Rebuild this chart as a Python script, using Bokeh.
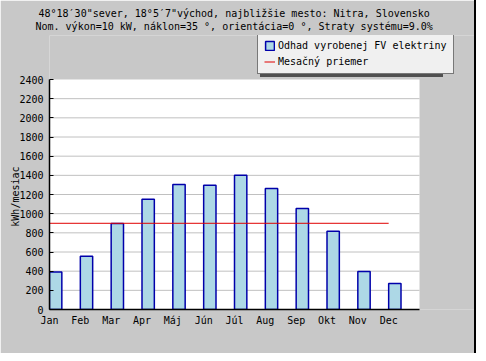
from bokeh.plotting import figure
from bokeh.models import (Legend, LegendItem, FixedTicker, Range1d, Title,
                          ColumnDataSource, BoxAnnotation)
from bokeh.embed import file_html
from bokeh.resources import INLINE

# ---- data ----
months = ["Jan", "Feb", "Mar", "Apr", "Máj", "Jún", "Júl", "Aug", "Sep", "Okt", "Nov", "Dec"]
energy = [392, 556, 897, 1150, 1304, 1296, 1401, 1262, 1053, 817, 396, 271]
y_ticks = [0, 200, 400, 600, 800, 1000, 1200, 1400, 1600, 1800, 2000, 2200, 2400]
title_line1 = "48°18′30\"sever, 18°5′7\"východ, najbližšie mesto: Nitra, Slovensko"
title_line2 = "Nom. výkon=10 kW, náklon=35 °, orientácia=0 °, Straty systému=9.0%"
y_label = "kWh/mesiac"
series_label = "Odhad vyrobenej FV elektriny"
mean_label = "Mesačný priemer"

FONT = "DejaVu Sans Mono"
BG = "#C8C8C8"

n = len(months)
idx = list(range(n))
y_max = y_ticks[-1]
mean_val = sum(energy) / n

# layout in pixels: plot area 370 x 230, frame extended up/right to hold the legend
PLOT_W, PLOT_H = 370, 230
FRAME_W, FRAME_H = 427, 274
x_hi = n * FRAME_W / PLOT_W
y_hi = y_max * FRAME_H / PLOT_H

src = ColumnDataSource(dict(
    left=idx,
    right=[i + 0.4 for i in idx],
    top=energy,
    bottom=[0] * n,
))

p = figure(
    width=476, height=353,
    min_border_left=49, min_border_right=0, min_border_top=35, min_border_bottom=44,
    x_range=Range1d(0, x_hi), y_range=Range1d(0, y_hi),
    output_backend="svg", toolbar_location=None,
    background_fill_color=BG, border_fill_color=BG,
)
p.outline_line_color = None
p.styles = {"border-right": "2px solid black"}

# white plot area
p.add_layout(BoxAnnotation(left=0, right=n, bottom=0, top=y_max, fill_color="white",
                           fill_alpha=1, line_color=None, level="underlay"))

# horizontal grid lines
grid_y = y_ticks[1:-1]
p.segment(x0=[0] * len(grid_y), x1=[n] * len(grid_y), y0=grid_y, y1=grid_y,
          line_color="#C0C0C0", line_width=1)

bars = p.quad(left="left", right="right", top="top", bottom="bottom", source=src,
              fill_color="#ADD8E6", line_color="#0000AA", line_width=1.5)
mline = p.line(x=[idx[0], idx[-1]], y=[mean_val, mean_val], line_color="#E00000", line_width=1)

# axes
p.xgrid.visible = False
p.ygrid.visible = False
p.xaxis.ticker = FixedTicker(ticks=idx)
p.xaxis.major_label_overrides = {i: m for i, m in zip(idx, months)}
p.xaxis.bounds = (0, n)
p.yaxis.ticker = FixedTicker(ticks=y_ticks)
p.yaxis.bounds = (0, y_max)
for ax in (p.xaxis[0], p.yaxis[0]):
    ax.axis_line_color = "black"
    ax.axis_line_width = 1.5
    ax.major_tick_in = 4
    ax.major_tick_out = 0
    ax.minor_tick_line_color = None
    ax.major_tick_line_color = "black"
    ax.major_label_text_font = FONT
    ax.major_label_text_font_size = "10px"
    ax.major_label_text_color = "black"
p.xaxis.major_tick_line_color = None
p.xaxis.major_label_standoff = 5
p.yaxis.major_label_standoff = 6
p.yaxis.axis_label = y_label + "\u00a0" * 8
p.yaxis.axis_label_text_font = FONT
p.yaxis.axis_label_text_font_size = "10px"
p.yaxis.axis_label_text_font_style = "normal"
p.yaxis.axis_label_text_color = "black"
p.yaxis.axis_label_standoff = -5

# legend shadow (invisible dummy renderers, blank labels)
empty = ColumnDataSource(dict(left=[], right=[], top=[], bottom=[]))
d1 = p.quad(left="left", right="right", top="top", bottom="bottom", source=empty,
            fill_alpha=0, line_alpha=0)
d2 = p.line(x=[], y=[], line_alpha=0)

common = dict(padding=6, spacing=5, margin=0, glyph_width=11, glyph_height=11,
              label_height=11, label_standoff=3,
              label_text_font=FONT, label_text_font_size="10px")

shadow = Legend(items=[LegendItem(label="\u00a0", renderers=[d1]),
                       LegendItem(label="\u00a0", renderers=[d2])],
                location=(211, 232), background_fill_color="#505050", background_fill_alpha=1,
                border_line_color=None, label_text_color="#505050", label_width=169, **common)
p.add_layout(shadow)

legend = Legend(items=[LegendItem(label=series_label, renderers=[bars]),
                       LegendItem(label=mean_label, renderers=[mline])],
                location=(208, 235), background_fill_color="#F0F0F0", background_fill_alpha=1,
                border_line_color="black", border_line_width=1,
                label_text_color="black", label_width=10, **common)
p.add_layout(legend)

# titles (first added = nearest to the plot); a tiny blank spacer sits next to the plot
p.add_layout(Title(text="\u00a0", standoff=0, text_font_size="2px"), "above")
p.add_layout(Title(text=title_line2, align="left", offset=-14, standoff=0, text_font=FONT,
                   text_font_size="10px", text_font_style="normal", text_color="black"), "above")
p.add_layout(Title(text=title_line1, align="left", offset=-11, standoff=0, text_font=FONT,
                   text_font_size="10px", text_font_style="normal", text_color="black"), "above")

open("out.html", "w").write(file_html(p, INLINE))
